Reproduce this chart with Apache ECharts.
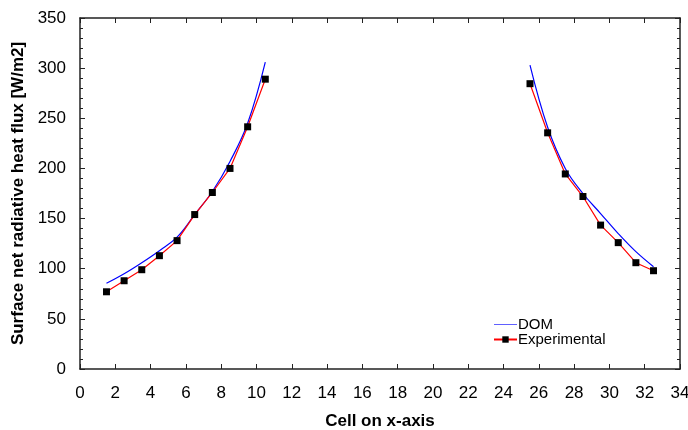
<!DOCTYPE html>
<html>
<head>
<meta charset="utf-8">
<script src="https://cdn.jsdelivr.net/npm/echarts@6/dist/echarts.min.js"></script>
<style>
  html, body { margin: 0; padding: 0; background: #fff; }
  #main { width: 688px; height: 430px; }
</style>
</head>
<body>
<div id="main"></div>
<script>
// cells (x) and values
var expLeftX  = [1.5, 2.5, 3.5, 4.5, 5.5, 6.5, 7.5, 8.5, 9.5, 10.5];
var expLeftY  = [77, 88, 99, 113, 128, 154, 176, 200, 241.5, 289];
var expRightX = [25.5, 26.5, 27.5, 28.5, 29.5, 30.5, 31.5, 32.5];
var expRightY = [284.5, 235.5, 194.5, 172, 143.5, 126, 106, 98];

var domLeftX  = [1.5, 2.5, 3.5, 4.5, 5.5, 6.5, 7.5, 8.5, 9.5, 10.5];
var domLeftY  = [85.5, 95, 106, 118, 131.5, 154, 177, 207, 245, 306];
var domRightX = [25.5, 26.5, 27.5, 28.5, 29.5, 30.5, 31.5, 32.5];
var domRightY = [303, 241, 200, 175, 155, 135, 117, 102];

var xTicks = [0, 34, 2];
var yTicks = [0, 350, 50];

function pairs(xs, ys) {
    var out = [];
    for (var i = 0; i < xs.length; i++) out.push([xs[i], ys[i]]);
    return out;
}

// gap between the two parts of each series
var domData = pairs(domLeftX, domLeftY).concat([[null, null]]).concat(pairs(domRightX, domRightY));
var expData = pairs(expLeftX, expLeftY).concat([[null, null]]).concat(pairs(expRightX, expRightY));

var font = 'Liberation Sans, Arial, sans-serif';
var axisCol = '#222';

var chart = echarts.init(document.getElementById('main'));

var option = {
    animation: false,
    grid: { left: 80, right: 8, top: 18, bottom: 61, show: false, containLabel: false, outerBoundsMode: 'none' },
    legend: {
        orient: 'vertical',
        left: 488,
        top: 312,
        itemWidth: 23,
        itemHeight: 8,
        itemGap: 0,
        textStyle: { fontFamily: font, fontSize: 15, color: '#000', padding: [0, 0, 0, -4] },
        data: [
            { name: 'DOM', icon: 'path://M0,4L22,4L22,4.6L0,4.6Z' },
            { name: 'Experimental' }
        ]
    },
    xAxis: [{
        type: 'value',
        min: xTicks[0], max: xTicks[1], interval: xTicks[2],
        name: 'Cell on x-axis',
        nameLocation: 'middle',
        nameGap: 44,
        nameTextStyle: { fontFamily: font, fontSize: 17, fontWeight: 'bold', color: '#000' },
        axisLine: { onZero: false, lineStyle: { color: axisCol, width: 1.5 } },
        axisTick: { inside: true, length: 5, lineStyle: { color: axisCol } },
        axisLabel: { fontFamily: font, fontSize: 17, color: '#000', margin: 16 },
        splitLine: { show: false }
    }, {
        type: 'value', position: 'top',
        min: xTicks[0], max: xTicks[1], interval: xTicks[2],
        axisLine: { onZero: false, lineStyle: { color: axisCol, width: 1.5 } },
        axisTick: { inside: true, length: 5, lineStyle: { color: axisCol } },
        axisLabel: { show: false },
        splitLine: { show: false }
    }],
    yAxis: [{
        type: 'value',
        min: yTicks[0], max: yTicks[1], interval: yTicks[2],
        name: 'Surface net radiative heat flux [W/m2]',
        nameLocation: 'middle',
        nameGap: 51,
        nameTextStyle: { fontFamily: font, fontSize: 17, fontWeight: 'bold', color: '#000' },
        axisLine: { show: true, onZero: false, lineStyle: { color: axisCol, width: 1.5 } },
        axisTick: { show: true, inside: true, length: 5, lineStyle: { color: axisCol } },
        minorTick: { show: true, splitNumber: 5, length: 3, lineStyle: { color: axisCol } },
        axisLabel: { fontFamily: font, fontSize: 17, color: '#000', margin: 14 },
        splitLine: { show: false }
    }, {
        type: 'value', position: 'right',
        min: yTicks[0], max: yTicks[1], interval: yTicks[2],
        axisLine: { show: true, onZero: false, lineStyle: { color: axisCol, width: 1.5 } },
        axisTick: { show: true, inside: true, length: 5, lineStyle: { color: axisCol } },
        minorTick: { show: true, splitNumber: 5, length: 3, lineStyle: { color: axisCol } },
        axisLabel: { show: false },
        splitLine: { show: false }
    }],
    series: [{
        name: 'DOM',
        type: 'line',
        data: domData,
        smooth: 0.4,
        connectNulls: false,
        showSymbol: false,
        symbol: 'none',
        itemStyle: { color: '#0000ff' },
        lineStyle: { color: '#0000ff', width: 1.2 }
    }, {
        name: 'Experimental',
        type: 'line',
        data: expData,
        connectNulls: false,
        symbol: 'rect',
        symbolSize: 7,
        itemStyle: { color: '#000' },
        lineStyle: { color: '#ff0000', width: 1.2 }
    }]
};

chart.setOption(option);
</script>
</body>
</html>
